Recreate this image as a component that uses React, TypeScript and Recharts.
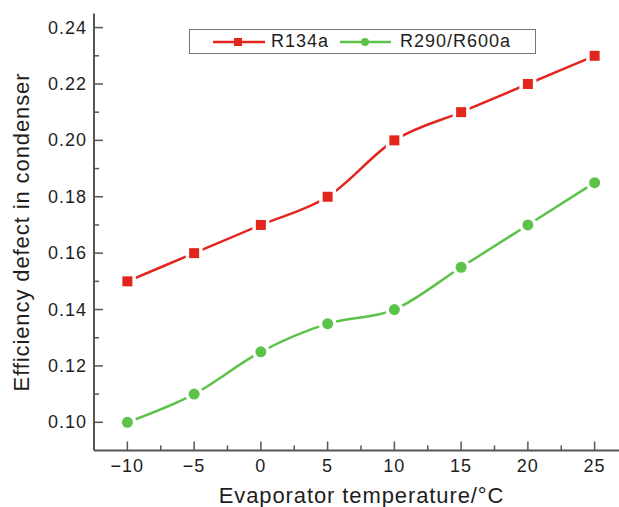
import { LineChart, Line, XAxis, YAxis, Legend, Label } from 'recharts';

const temps = [-10, -5, 0, 5, 10, 15, 20, 25];
const r134a = [0.15, 0.16, 0.17, 0.18, 0.2, 0.21, 0.22, 0.23];
const r290 = [0.1, 0.11, 0.125, 0.135, 0.14, 0.155, 0.17, 0.185];

const xTicks = [-10, -7.5, -5, -2.5, 0, 2.5, 5, 7.5, 10, 12.5, 15, 17.5, 20, 22.5, 25];
const yTicks = [0.1, 0.11, 0.12, 0.13, 0.14, 0.15, 0.16, 0.17, 0.18, 0.19, 0.2, 0.21, 0.22, 0.23, 0.24];

const RED = '#e2261d';
const GREEN = '#5cc24a';
const AXIS = '#555';
const TXT = '#1e1e1e';
const FONT = 'Liberation Sans, Arial, sans-serif';

const data = temps.map((t, i) => ({ t, r134a: r134a[i], r290: r290[i] }));

const isMajorX = (v: number) => v % 5 === 0;
const isMajorY = (v: number) => Math.round(v * 100) % 2 === 0;
const fmtX = (v: number) => (v < 0 ? `\u2212${-v}` : `${v}`);

const BottomTick = ({ x, y, payload }: any) => {
  const major = isMajorX(payload.value);
  return (
    <g>
      <line x1={x} x2={x} y1={y} y2={y - (major ? 9 : 5)} stroke={AXIS} strokeWidth={1.5} />
      {major && (
        <text x={x} y={y + 21} textAnchor="middle" fontSize={18} letterSpacing={1} fill={TXT} fontFamily={FONT}>
          {fmtX(payload.value)}
        </text>
      )}
    </g>
  );
};

const TopTick = ({ x, y, payload }: any) => (
  <line x1={x} x2={x} y1={y} y2={y + (isMajorX(payload.value) ? 9 : 5)} stroke={AXIS} strokeWidth={1.5} />
);

const LeftTick = ({ x, y, payload }: any) => {
  const major = isMajorY(payload.value);
  return (
    <g>
      <line x1={x} x2={x + (major ? 9 : 5)} y1={y} y2={y} stroke={AXIS} strokeWidth={1.5} />
      {major && (
        <text x={x - 7} y={y + 6} textAnchor="end" fontSize={18} letterSpacing={1} fill={TXT} fontFamily={FONT}>
          {payload.value.toFixed(2)}
        </text>
      )}
    </g>
  );
};

const RightTick = ({ x, y, payload }: any) => (
  <line x1={x} x2={x - (isMajorY(payload.value) ? 9 : 5)} y1={y} y2={y} stroke={AXIS} strokeWidth={1.5} />
);

const SquareDot = ({ cx, cy }: any) => (
  <g>
    <rect x={cx - 8.5} y={cy - 8.5} width={17} height={17} fill="#fff" />
    <rect x={cx - 5} y={cy - 5} width={10} height={10} fill={RED} />
  </g>
);

const CircleDot = ({ cx, cy }: any) => (
  <g>
    <circle cx={cx} cy={cy} r={9} fill="#fff" />
    <circle cx={cx} cy={cy} r={5.5} fill={GREEN} />
  </g>
);

const LegendBox = () => (
  <div
    style={{
      width: 345,
      height: 23,
      border: '1px solid #777',
      background: '#fff',
      position: 'relative',
      fontFamily: FONT,
      fontSize: 18,
      letterSpacing: 1,
      color: TXT,
    }}
  >
    <svg width={345} height={23} style={{ position: 'absolute', left: 0, top: 0 }}>
      <line x1={23} x2={44} y1={12} y2={12} stroke={RED} strokeWidth={2.5} />
      <line x1={52} x2={75} y1={12} y2={12} stroke={RED} strokeWidth={2.5} />
      <rect x={44} y={8} width={8} height={8} fill={RED} />
      <line x1={150} x2={171} y1={12} y2={12} stroke={GREEN} strokeWidth={2.5} />
      <line x1={179} x2={201} y1={12} y2={12} stroke={GREEN} strokeWidth={2.5} />
      <circle cx={175} cy={12} r={4} fill={GREEN} />
    </svg>
    <span style={{ position: 'absolute', left: 81, top: 1 }}>R134a</span>
    <span style={{ position: 'absolute', left: 210, top: 1 }}>R290/R600a</span>
  </div>
);

export default function App() {
  return (
    <div
      style={{
        position: 'fixed',
        left: 0,
        top: 0,
        width: 619,
        height: 507,
        overflow: 'hidden',
        background: '#fff',
      }}
    >
      <LineChart
        width={640}
        height={507}
        data={data}
        margin={{ top: 13.5, right: 11, bottom: 16.5, left: 10 }}
      >
        <XAxis
          xAxisId="b"
          dataKey="t"
          type="number"
          domain={[-12.5, 27.5]}
          ticks={xTicks}
          interval={0}
          height={40}
          tickSize={0}
          tickMargin={0}
          tickLine={false}
          tick={<BottomTick />}
          axisLine={{ stroke: AXIS, strokeWidth: 2 }}
        />
        <XAxis
          xAxisId="top"
          orientation="top"
          dataKey="t"
          type="number"
          domain={[-12.5, 27.5]}
          ticks={xTicks}
          interval={0}
          height={0}
          tickSize={0}
          tickMargin={0}
          tickLine={false}
          tick={<TopTick />}
          axisLine={{ stroke: AXIS, strokeWidth: 2 }}
        />
        <YAxis
          yAxisId="l"
          type="number"
          domain={[0.09, 0.245]}
          ticks={yTicks}
          interval={0}
          width={84}
          tickSize={0}
          tickMargin={0}
          tickLine={false}
          tick={<LeftTick />}
          axisLine={{ stroke: AXIS, strokeWidth: 2 }}
        >
          <Label
            content={() => (
              <text
                x={29}
                y={232}
                transform="rotate(-90 29 232)"
                textAnchor="middle"
                fontSize={22}
                letterSpacing={0.9}
                fill={TXT}
                fontFamily={FONT}
              >
                Efficiency defect in condenser
              </text>
            )}
          />
        </YAxis>
        <YAxis
          yAxisId="r"
          orientation="right"
          type="number"
          domain={[0.09, 0.245]}
          ticks={yTicks}
          interval={0}
          width={1}
          tickSize={0}
          tickMargin={0}
          tickLine={false}
          tick={<RightTick />}
          axisLine={{ stroke: AXIS, strokeWidth: 2 }}
        />
        <Legend
          content={<LegendBox />}
          wrapperStyle={{ position: 'absolute', left: 189, top: 29, width: 347, height: 0, overflow: 'visible' }}
        />
        <Line
          xAxisId="b"
          yAxisId="l"
          type="monotone"
          dataKey="r134a"
          stroke={RED}
          strokeWidth={2.5}
          dot={<SquareDot />}
          activeDot={false}
          isAnimationActive={false}
        />
        <Line
          xAxisId="b"
          yAxisId="l"
          type="monotone"
          dataKey="r290"
          stroke={GREEN}
          strokeWidth={2.5}
          dot={<CircleDot />}
          activeDot={false}
          isAnimationActive={false}
        />
      </LineChart>
      <div
        style={{
          position: 'absolute',
          left: 0,
          top: 483,
          width: 619,
          textAlign: 'center',
          paddingLeft: 104,
          boxSizing: 'border-box',
          fontFamily: FONT,
          fontSize: 22,
          letterSpacing: 0.9,
          color: TXT,
        }}
      >
        Evaporator temperature/°C
      </div>
    </div>
  );
}
